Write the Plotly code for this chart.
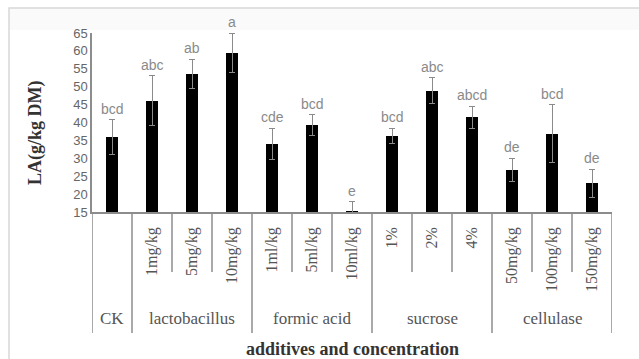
import plotly.graph_objects as go

# LA content per treatment (g/kg DM)
treatments = ["CK", "1mg/kg", "5mg/kg", "10mg/kg", "1ml/kg", "5ml/kg", "10ml/kg",
              "1%", "2%", "4%", "50mg/kg", "100mg/kg", "150mg/kg"]
tick_text = ["", "1mg/kg", "5mg/kg", "10mg/kg", "1ml/kg", "5ml/kg", "10ml/kg",
             "1%", "2%", "4%", "50mg/kg", "100mg/kg", "150mg/kg"]
la_values = [35.9, 46.1, 53.5, 59.5, 34.0, 39.3, 15.4, 36.2, 48.9, 41.5, 26.7, 36.8, 23.0]
la_errors = [4.8, 6.9, 4.1, 5.5, 4.4, 2.8, 2.5, 2.2, 3.6, 3.1, 3.3, 8.1, 3.9]
letters = ["bcd", "abc", "ab", "a", "cde", "bcd", "e", "bcd", "abc", "abcd", "de", "bcd", "de"]

groups = ["CK", "lactobacillus", "formic acid", "sucrose", "cellulase"]
group_sizes = [1, 3, 3, 3, 3]

x = list(range(len(treatments)))

W, H = 639, 359
L, R, T, B = 92, 612, 33, 212  # plot area in pixels


def py(pix):
    return (B - pix) / (B - T)


def px(pix):
    return (pix - L) / (R - L)


fig = go.Figure()
fig.add_trace(go.Bar(
    x=x, y=la_values, width=0.32,
    marker=dict(color="black", line=dict(width=0)),
    error_y=dict(type="data", array=la_errors, visible=True,
                 color="#8a8a8a", thickness=1, width=3),
    hoverinfo="skip",
))

annotations = []
# significance letters above each error bar
for xi, v, e, t in zip(x, la_values, la_errors, letters):
    annotations.append(dict(x=xi, y=v + e, xref="x", yref="y", text=t,
                            showarrow=False, yanchor="bottom", yshift=1,
                            font=dict(family="Liberation Sans", size=14, color="#8a8a8a")))

shapes = []
# faint header band of the chart area
shapes.append(dict(type="rect", xref="paper", yref="paper",
                   x0=px(9), x1=px(660), y0=py(8), y1=py(30),
                   fillcolor="#fafafa", line=dict(width=0), layer="below"))
# dividers below the axis: short between doses, long between additive groups
boundaries = [0]
for s in group_sizes:
    boundaries.append(boundaries[-1] + s)
for k in range(len(treatments) + 1):
    long = k in boundaries
    shapes.append(dict(type="line", xref="x", yref="paper",
                       x0=k - 0.5, x1=k - 0.5, y0=0, y1=py(333 if long else 272),
                       line=dict(color="#8c8c8c", width=1.5)))

# group names
for g, a, b in zip(groups, boundaries[:-1], boundaries[1:]):
    annotations.append(dict(x=(a + b - 1) / 2, y=py(318), xref="x", yref="paper",
                            text=g, showarrow=False, yanchor="middle",
                            font=dict(family="Liberation Serif", size=17, color="#555")))

annotations.append(dict(x=0.5, y=py(349), xref="paper", yref="paper",
                        text="<b>additives and concentration</b>", showarrow=False,
                        yanchor="middle",
                        font=dict(family="Liberation Serif", size=18, color="#333")))
annotations.append(dict(x=px(35), y=py(133), xref="paper", yref="paper",
                        text="<b>LA(g/kg DM)</b>", showarrow=False, textangle=-90,
                        xanchor="center", yanchor="middle",
                        font=dict(family="Liberation Serif", size=18, color="#333")))

# chart area border
shapes.append(dict(type="rect", xref="paper", yref="paper",
                   x0=px(9), x1=px(660), y0=py(8), y1=py(380),
                   line=dict(color="#d8d8d8", width=1.5), layer="below"))

fig.update_layout(
    width=W, height=H,
    margin=dict(l=L, r=W - R, t=T, b=H - B),
    paper_bgcolor="white", plot_bgcolor="white",
    showlegend=False,
    bargap=0,
    annotations=annotations,
    shapes=shapes,
    xaxis=dict(range=[-0.5, len(treatments) - 0.5], tickmode="array",
               tickvals=x, ticktext=tick_text, tickangle=-90,
               ticks="outside", ticklen=7, tickcolor="rgba(0,0,0,0)",
               showline=True, linecolor="#8c8c8c", linewidth=1.5,
               showgrid=False, zeroline=False, automargin=False,
               tickfont=dict(family="Liberation Serif", size=16, color="#555")),
    yaxis=dict(range=[15, 65], dtick=5, tick0=15, showline=True,
               linecolor="#8c8c8c", linewidth=1.5, showgrid=False, zeroline=False,
               ticks="", automargin=False,
               tickfont=dict(family="Liberation Sans", size=13, color="#666")),
)

fig.write_html("out.html")
